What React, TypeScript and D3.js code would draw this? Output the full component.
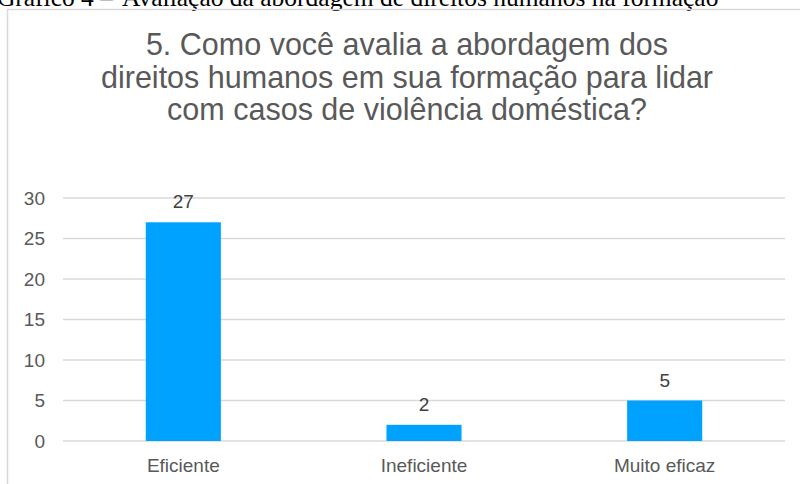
import React, { useRef, useEffect } from 'react';
import * as d3 from 'd3';

const categories = ['Eficiente', 'Ineficiente', 'Muito eficaz'];
const values = [27, 2, 5];
const yTicks = [0, 5, 10, 15, 20, 25, 30];
const titleLines = [
  '5. Como você avalia a abordagem dos',
  'direitos humanos em sua formação para lidar',
  'com casos de violência doméstica?',
];
const captionLead = 'Gráfico 4 –';
const captionText = 'Avaliação da abordagem de direitos humanos na formação';

const App = () => {
  const ref = useRef<SVGSVGElement>(null);

  useEffect(() => {
    const W = 800;
    const H = 484;
    const font = '"Liberation Sans", Arial, sans-serif';
    const serif = '"Liberation Serif", "Times New Roman", serif';
    const svg = d3.select(ref.current);
    svg.selectAll('*').remove();
    svg.attr('width', W).attr('height', H);

    svg.append('rect').attr('width', W).attr('height', H).attr('fill', '#fff');

    // caption from the document, cut off at the top
    svg
      .append('text')
      .attr('x', 113)
      .attr('y', 5.5)
      .attr('text-anchor', 'end')
      .attr('font-family', serif)
      .attr('font-size', 25.5)
      .attr('fill', '#000')
      .text(captionLead);
    svg
      .append('text')
      .attr('x', 122)
      .attr('y', 5.5)
      .attr('font-family', serif)
      .attr('font-size', 25.5)
      .attr('fill', '#000')
      .text(captionText);

    // chart frame (right and bottom out of view)
    svg
      .append('path')
      .attr('d', 'M7.5,490V9.5H810')
      .attr('fill', 'none')
      .attr('stroke', '#d9d9d9')
      .attr('stroke-width', 1.5);

    svg
      .append('g')
      .selectAll('text')
      .data(titleLines)
      .enter()
      .append('text')
      .attr('x', 407)
      .attr('y', (d, i) => 55 + i * 32.5)
      .attr('text-anchor', 'middle')
      .attr('font-family', font)
      .attr('font-size', 30.5)
      .attr('fill', '#595959')
      .text((d) => d);

    const left = 63;
    const right = 785;
    const y = d3.scaleLinear().domain([0, 30]).range([441, 198]);
    const x = d3
      .scaleBand()
      .domain(categories)
      .range([left, right])
      .paddingInner(0.688)
      .paddingOuter(0.344);

    const grid = svg.append('g');
    grid
      .selectAll('line')
      .data(yTicks)
      .enter()
      .append('line')
      .attr('x1', left)
      .attr('x2', right)
      .attr('y1', (d) => y(d))
      .attr('y2', (d) => y(d))
      .attr('stroke', '#d9d9d9')
      .attr('stroke-width', 1.5);

    grid
      .selectAll('text')
      .data(yTicks)
      .enter()
      .append('text')
      .attr('x', 45)
      .attr('y', (d) => y(d))
      .attr('dy', '0.36em')
      .attr('text-anchor', 'end')
      .attr('font-family', font)
      .attr('font-size', 19)
      .attr('fill', '#595959')
      .text((d) => d);

    const data = categories.map((c, i) => ({ c, v: values[i] }));

    svg
      .append('g')
      .selectAll('rect')
      .data(data)
      .enter()
      .append('rect')
      .attr('x', (d) => x(d.c)!)
      .attr('y', (d) => y(d.v))
      .attr('width', x.bandwidth())
      .attr('height', (d) => y(0) - y(d.v))
      .attr('fill', '#00A2FF');

    svg
      .append('g')
      .selectAll('text')
      .data(data)
      .enter()
      .append('text')
      .attr('x', (d) => x(d.c)! + x.bandwidth() / 2)
      .attr('y', (d) => y(d.v) - 14)
      .attr('text-anchor', 'middle')
      .attr('font-family', font)
      .attr('font-size', 19)
      .attr('fill', '#404040')
      .text((d) => d.v);

    svg
      .append('g')
      .selectAll('text')
      .data(categories)
      .enter()
      .append('text')
      .attr('x', (d) => x(d)! + x.bandwidth() / 2)
      .attr('y', 472)
      .attr('text-anchor', 'middle')
      .attr('font-family', font)
      .attr('font-size', 19)
      .attr('fill', '#595959')
      .text((d) => d);
  }, []);

  return (
    <svg
      ref={ref}
      style={{ position: 'fixed', left: 0, top: 0, display: 'block' }}
    ></svg>
  );
};

export default App;
